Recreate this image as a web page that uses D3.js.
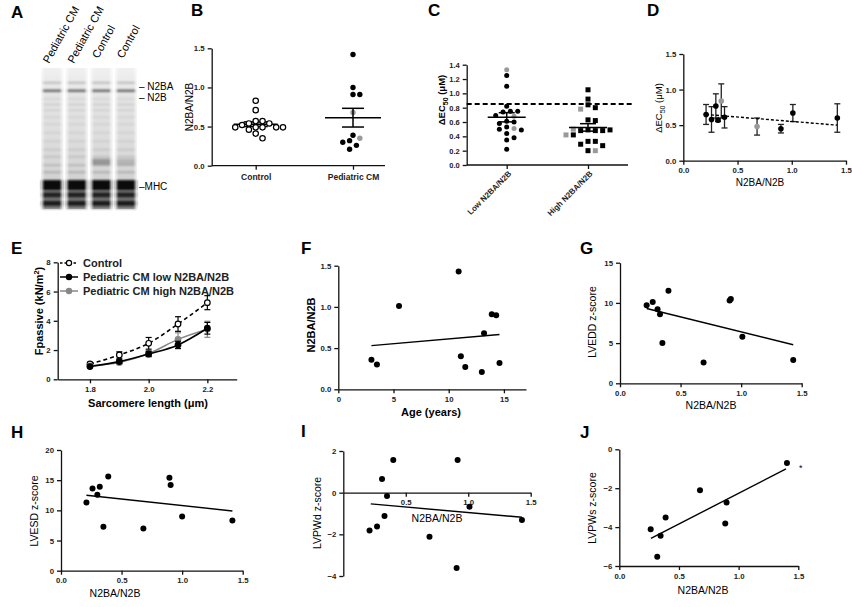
<!DOCTYPE html>
<html>
<head>
<meta charset="utf-8">
<script src="https://cdn.jsdelivr.net/npm/d3@7"></script>
<style>
  body { margin: 0; background: #fff; }
  svg { display: block; }
  text { font-family: "Liberation Sans", Arial, Helvetica, sans-serif; }
</style>
</head>
<body>
<div id="container"></div>
<script>
// ---------- data ----------
// A: gel
const gelLanes = ['Pediatric CM', 'Pediatric CM', 'Control', 'Control'];
const gelMarkers = ['N2BA', 'N2B', 'MHC'];
const gelMarkerPos = [0.13, 0.21, 0.84];             // label migration (0 = top, 1 = bottom)
const gelBandPos = [0.105, 0.16, 0.22, 0.26, 0.30, 0.35, 0.40, 0.46, 0.52, 0.58, 0.63, 0.69, 0.74];
const gelBandShade = [0.22, 0.55, 0.08, 0.1, 0.08, 0.07, 0.07, 0.07, 0.08, 0.1, 0.12, 0.16, 0.2];
const gelControlBand = 0.665;
const gelMhcPos = [0.83, 0.9, 0.96];
const gelMhcShade = [0.95, 0.8, 0.85];

// B: N2BA/N2B ratio
const ratioGroups = ['Control', 'Pediatric CM'];
const ctrlRatio = [0.83, 0.71, 0.57, 0.57, 0.54, 0.54, 0.52, 0.49, 0.49, 0.49, 0.49, 0.49, 0.46, 0.41, 0.35];
const pedRatio = [1.42, 1.00, 0.91, 0.91, 0.68, 0.39, 0.35, 0.32, 0.30, 0.26, 0.21];
const pedGrey = [0, 0, 0, 0, 1, 0, 1, 0, 0, 0, 0];

// C: delta EC50
const ecGroups = ['Low N2BA/N2B', 'High N2BA/N2B'];
const lowEc = [1.33, 1.25, 1.10, 0.82, 0.75, 0.74, 0.75, 0.68, 0.69, 0.61, 0.60, 0.58, 0.53, 0.51, 0.50, 0.49, 0.44, 0.38, 0.35, 0.22];
const lowGrey = [1, 0, 0, 0, 0, 0, 0, 1, 0, 0, 0, 0, 0, 1, 0, 0, 0, 0, 0, 0];
const highEc = [1.05, 0.92, 0.84, 0.80, 0.78, 0.63, 0.62, 0.49, 0.48, 0.48, 0.48, 0.50, 0.49, 0.42, 0.42, 0.33, 0.33, 0.29, 0.27, 0.20, 0.20];
const highGrey = [0, 0, 0, 0, 1, 0, 0, 0, 0, 0, 0, 1, 0, 0, 1, 0, 0, 0, 0, 0, 1];
const ecControlLevel = 0.85;

// D: delta EC50 vs ratio
const dRatio = [0.21, 0.26, 0.30, 0.32, 0.35, 0.38, 0.68, 0.90, 1.01, 1.42];
const dEc = [0.65, 0.58, 0.77, 0.57, 0.84, 0.61, 0.48, 0.45, 0.67, 0.60];
const dErr = [0.14, 0.18, 0.17, 0.02, 0.24, 0.15, 0.12, 0.06, 0.12, 0.20];
const dGrey = [0, 0, 0, 0, 1, 0, 1, 0, 0, 0];
const dFit = [[0.21, 0.65], [1.42, 0.50]];

// E: passive force
const eSL = [1.8, 1.9, 2.0, 2.1, 2.2];
const eSeries = ['Control', 'Pediatric CM low N2BA/N2B', 'Pediatric CM high N2BA/N2B'];
const eCtrl = [1.05, 1.66, 2.46, 3.78, 5.24];
const eCtrlErr = [0.1, 0.22, 0.4, 0.5, 0.48];
const eLow = [0.87, 1.21, 1.73, 2.35, 3.49];
const eLowErr = [0.08, 0.12, 0.18, 0.25, 0.4];
const eHigh = [0.92, 1.15, 1.76, 2.73, 3.42];
const eHighErr = [0.08, 0.15, 0.2, 0.45, 0.55];

// F: ratio vs age
const fAge = [3.0, 3.5, 5.5, 10.9, 11.1, 11.5, 13.0, 13.2, 13.9, 14.3, 14.6];
const fRatio = [0.36, 0.30, 1.01, 1.43, 0.40, 0.27, 0.21, 0.68, 0.91, 0.90, 0.32];
const fFit = [[3.0, 0.53], [14.6, 0.665]];

// G-J: echo z-scores vs ratio
const gRatio = [0.22, 0.27, 0.31, 0.33, 0.35, 0.40, 0.69, 0.905, 0.915, 1.01, 1.43];
const gLVEDD = [9.7, 10.1, 9.2, 8.6, 5.0, 11.5, 2.6, 10.3, 10.5, 5.8, 2.9];
const gFit = [[0.22, 9.3], [1.43, 4.8]];

const hRatio = [0.21, 0.26, 0.30, 0.32, 0.35, 0.39, 0.68, 0.895, 0.905, 1.0, 1.415];
const hLVESD = [11.3, 13.6, 12.6, 13.9, 7.3, 15.6, 7.0, 15.4, 14.2, 9.0, 8.3];
const hFit = [[0.21, 12.5], [1.415, 9.9]];

const iRatio = [0.21, 0.27, 0.31, 0.33, 0.35, 0.40, 0.69, 0.915, 0.907, 1.01, 1.43];
const iLVPWd = [-1.82, -1.62, 0.66, -1.12, -0.16, 1.57, -2.11, 1.57, -3.62, -0.67, -1.31];
const iFit = [[0.22, -0.54], [1.43, -1.18]];

const jRatio = [0.263, 0.346, 0.318, 0.388, 0.676, 0.899, 0.888, 1.405];
const jLVPWs = [-4.11, -4.44, -5.52, -3.51, -2.11, -2.73, -3.82, -0.70];
const jFit = [[0.265, -4.58], [1.397, -1.01]];
const jStar = [1.52, -0.89];

// ---------- drawing ----------
const W = 852, H = 607;
const GREY = '#9a9a9a';
const svg = d3.select('#container').append('svg').attr('width', W).attr('height', H);

function panelLetter(t, x, y) {
  svg.append('text').attr('x', x).attr('y', y).text(t)
    .attr('font-size', 17).attr('font-weight', 'bold');
}

function styleAxis(g) {
  g.selectAll('path, line').attr('stroke', '#111').attr('stroke-width', 1.3);
  g.selectAll('text').attr('font-size', 7.8).attr('font-weight', 'bold').attr('fill', '#222');
}

function yTitle(label, x, y, size, weight) {
  return svg.append('text').attr('transform', `translate(${x},${y}) rotate(-90)`)
    .attr('text-anchor', 'middle').attr('font-size', size || 10.5)
    .attr('font-weight', weight || 'normal').text(label);
}
function xTitle(label, x, y, size, weight) {
  return svg.append('text').attr('x', x).attr('y', y)
    .attr('text-anchor', 'middle').attr('font-size', size || 10.5)
    .attr('font-weight', weight || 'normal').text(label);
}

// numeric axes for a panel
function axes(x, y, xTicks, yTicks, xFmt, yFmt, xAtY) {
  const gx = svg.append('g')
    .attr('transform', `translate(0,${xAtY === undefined ? y.range()[0] : y(xAtY)})`)
    .call(d3.axisBottom(x).tickValues(xTicks).tickFormat(xFmt).tickSize(4).tickSizeOuter(0));
  const gy = svg.append('g').attr('transform', `translate(${x.range()[0]},0)`)
    .call(d3.axisLeft(y).tickValues(yTicks).tickFormat(yFmt).tickSize(4).tickSizeOuter(0));
  styleAxis(gx); styleAxis(gy);
  return [gx, gy];
}

function dots(x, y, xs, ys, greys, r) {
  svg.append('g').selectAll('circle').data(xs).join('circle')
    .attr('cx', d => x(d)).attr('cy', (d, i) => y(ys[i])).attr('r', r || 3)
    .attr('fill', (d, i) => greys && greys[i] ? GREY : '#000');
}

function fitLine(x, y, pts, dash) {
  svg.append('path').datum(pts)
    .attr('d', d3.line().x(d => x(d[0])).y(d => y(d[1])))
    .attr('fill', 'none').attr('stroke', '#000').attr('stroke-width', 1.4)
    .attr('stroke-dasharray', dash || null);
}

// simple beeswarm: push points sideways until they stop overlapping
function swarm(values, y, r) {
  const placed = [];
  return values.map(v => {
    const cy = y(v);
    let k = 0, off = 0;
    while (true) {
      off = (k === 0) ? 0 : (k % 2 ? 1 : -1) * Math.ceil(k / 2) * (r * 2 + 0.8) * 0.55;
      const ok = placed.every(p => (p.dx - off) ** 2 + (p.cy - cy) ** 2 >= (2 * r + 0.6) ** 2);
      if (ok) break;
      k++;
    }
    const p = { dx: off, cy };
    placed.push(p);
    return p;
  });
}

function meanSem(vals) {
  const m = d3.mean(vals);
  const sem = d3.deviation(vals) / Math.sqrt(vals.length);
  return [m, sem];
}

function meanBars(cx, y, vals, wMean, wSem, vertical) {
  const [m, s] = meanSem(vals);
  const g = svg.append('g').attr('stroke', '#000').attr('stroke-width', 1.5);
  g.append('line').attr('x1', cx - wMean).attr('x2', cx + wMean).attr('y1', y(m)).attr('y2', y(m));
  [m - s, m + s].forEach(v => g.append('line').attr('x1', cx - wSem).attr('x2', cx + wSem)
    .attr('y1', y(v)).attr('y2', y(v)));
  if (vertical) g.append('line').attr('x1', cx).attr('x2', cx).attr('y1', y(m - s)).attr('y2', y(m + s));
}

// ===== A: gel =====
(function () {
  const defs = svg.append('defs');
  const grad = defs.append('linearGradient').attr('id', 'laneBg')
    .attr('x1', 0).attr('x2', 0).attr('y1', 0).attr('y2', 1);
  [[0, '#f0f0f0'], [0.2, '#e4e4e4'], [0.5, '#dddddd'], [0.75, '#d4d4d4'], [1, '#c8c8c8']]
    .forEach(s => grad.append('stop').attr('offset', s[0]).attr('stop-color', s[1]));
  const hgrad = defs.append('linearGradient').attr('id', 'laneEdge');
  [[0, 'rgba(255,255,255,0.7)'], [0.18, 'rgba(255,255,255,0)'], [0.82, 'rgba(255,255,255,0)'], [1, 'rgba(255,255,255,0.7)']]
    .forEach(s => hgrad.append('stop').attr('offset', s[0]).attr('stop-color', s[1]));
  defs.append('filter').attr('id', 'blur').append('feGaussianBlur').attr('stdDeviation', 0.9);

  const lane = d3.scaleBand().domain(d3.range(gelLanes.length)).range([41, 137]).paddingInner(0.1);
  const mig = d3.scaleLinear().domain([0, 1]).range([68, 209]);
  const g = svg.append('g');
  gelLanes.forEach((name, i) => {
    const x0 = lane(i), w = lane.bandwidth();
    const lg = g.append('g');
    lg.append('rect').attr('x', x0).attr('y', mig(0)).attr('width', w).attr('height', mig(1) - mig(0))
      .attr('fill', 'url(#laneBg)');
    const bg = lg.append('g').attr('filter', 'url(#blur)');
    gelBandPos.forEach((p, j) => bg.append('rect').attr('x', x0 + 1).attr('width', w - 2)
      .attr('y', mig(p) - 1).attr('height', j === 1 ? 2.4 : 1.8)
      .attr('fill', '#000').attr('opacity', gelBandShade[j]));
    if (name === 'Control') {
      bg.append('rect').attr('x', x0 + 1).attr('width', w - 2).attr('y', mig(gelControlBand) - 3)
        .attr('height', 6).attr('fill', '#000').attr('opacity', i === 2 ? 0.3 : 0.16);
    }
    gelMhcPos.forEach((p, j) => bg.append('rect').attr('x', x0 + 0.5).attr('width', w - 1)
      .attr('y', mig(p) - (j === 0 ? 5 : 2.5)).attr('height', j === 0 ? 10 : 5)
      .attr('fill', '#000').attr('opacity', gelMhcShade[j]));
    bg.append('rect').attr('x', x0 + 1).attr('width', w - 2).attr('y', mig(0.86))
      .attr('height', mig(1) - mig(0.86)).attr('fill', '#222').attr('opacity', 0.5);
    lg.append('rect').attr('x', x0).attr('y', mig(0)).attr('width', w).attr('height', mig(1) - mig(0))
      .attr('fill', 'url(#laneEdge)');
    g.append('text').attr('transform', `translate(${x0 + w / 2 - 3},${name === 'Control' ? 59 : 64}) rotate(-61)`)
      .attr('font-size', 11).text(name);
  });
  gelMarkers.forEach((m, i) => {
    g.append('text').attr('x', 139).attr('y', mig(gelMarkerPos[i]) + 3.5)
      .attr('font-size', 10).text((i === 2 ? '\u2013' : '\u2013 ') + m);
  });
})();
panelLetter('A', 11, 18);

// ===== B =====
(function () {
  const y = d3.scaleLinear().domain([0, 1.5]).range([165.7, 48.3]);
  const x = d3.scalePoint().domain(ratioGroups).range([255.7, 353]);
  const gy = svg.append('g').attr('transform', 'translate(211.7,0)')
    .call(d3.axisLeft(y).tickValues([0, 0.5, 1, 1.5]).tickFormat(d3.format('.1f')).tickSize(4).tickSizeOuter(0));
  const gx = svg.append('g').attr('transform', `translate(0,${y(0)})`)
    .call(d3.axisBottom(x).tickSize(4).tickSizeOuter(0));
  gx.select('.domain').attr('d', `M211.7,0H385`);
  styleAxis(gy); styleAxis(gx);
  gx.selectAll('text').attr('font-size', 8.5).attr('dy', '0.9em');
  yTitle('N2BA/N2B', 193, 107, 10);

  const r = 2.7;
  const cs = swarm(ctrlRatio, y, r);
  meanBars(x('Control'), y, ctrlRatio, 22, 12, false);
  svg.append('g').selectAll('circle').data(cs).join('circle')
    .attr('cx', d => x('Control') + d.dx).attr('cy', d => d.cy).attr('r', r)
    .attr('fill', '#fff').attr('stroke', '#000').attr('stroke-width', 1.2);
  const ps = swarm(pedRatio, y, r);
  svg.append('g').selectAll('circle').data(ps).join('circle')
    .attr('cx', d => x('Pediatric CM') + d.dx).attr('cy', d => d.cy).attr('r', r)
    .attr('fill', (d, i) => pedGrey[i] ? GREY : '#000');
  meanBars(x('Pediatric CM'), y, pedRatio, 28, 11, true);
})();
panelLetter('B', 191, 16);

// ===== C =====
(function () {
  const y = d3.scaleLinear().domain([0, 1.4]).range([165, 64.7]);
  const x = d3.scalePoint().domain(ecGroups).range([506.7, 588]);
  const gy = svg.append('g').attr('transform', 'translate(466.7,0)')
    .call(d3.axisLeft(y).tickValues(d3.range(0, 1.41, 0.2)).tickFormat(d3.format('.1f')).tickSize(4).tickSizeOuter(0));
  const gx = svg.append('g').attr('transform', `translate(0,${y(0)})`)
    .call(d3.axisBottom(x).tickSize(4).tickSizeOuter(0));
  gx.select('.domain').attr('d', 'M466.7,0H628');
  styleAxis(gy); styleAxis(gx);
  gy.selectAll('text').attr('font-size', 7.5);
  gx.selectAll('text').attr('font-size', 8).attr('text-anchor', 'end')
    .attr('transform', 'rotate(-45)').attr('dx', '-0.4em').attr('dy', '0.35em');
  const t = svg.append('text').attr('transform', 'translate(445,100) rotate(-90)')
    .attr('text-anchor', 'middle').attr('font-size', 9.5).attr('font-weight', 'bold');
  t.append('tspan').text('\u0394EC');
  t.append('tspan').attr('font-size', 7).attr('dy', 2.5).text('50');
  t.append('tspan').attr('dy', -2.5).text(' (\u03bcM)');

  svg.append('line').attr('x1', 466.7).attr('x2', 632).attr('y1', y(ecControlLevel)).attr('y2', y(ecControlLevel))
    .attr('stroke', '#000').attr('stroke-width', 2).attr('stroke-dasharray', '5,3');

  const r = 2.5;
  const ls = swarm(lowEc, y, r);
  svg.append('g').selectAll('circle').data(ls).join('circle')
    .attr('cx', d => x(ecGroups[0]) + d.dx * 1.15).attr('cy', d => d.cy).attr('r', r)
    .attr('fill', (d, i) => lowGrey[i] ? GREY : '#000');
  meanBars(x(ecGroups[0]), y, lowEc, 19, 8, true);
  const hs = swarm(highEc, y, r);
  svg.append('g').selectAll('rect').data(hs).join('rect')
    .attr('x', d => x(ecGroups[1]) + d.dx * 1.15 - r).attr('y', d => d.cy - r)
    .attr('width', 2 * r).attr('height', 2 * r)
    .attr('fill', (d, i) => highGrey[i] ? GREY : '#000');
  meanBars(x(ecGroups[1]), y, highEc, 19, 8, true);
})();
panelLetter('C', 428, 16);

// ===== D =====
(function () {
  const x = d3.scaleLinear().domain([0, 1.5]).range([683.3, 846]);
  const y = d3.scaleLinear().domain([0, 1.5]).range([160.7, 54]);
  axes(x, y, [0, 0.5, 1, 1.5], [0, 0.5, 1, 1.5], d3.format('.1f'), d3.format('.1f'));
  const eb = svg.append('g').attr('stroke', '#222').attr('stroke-width', 1.3);
  dRatio.forEach((v, i) => {
    const cx = x(v), y1 = y(dEc[i] - dErr[i]), y2 = y(dEc[i] + dErr[i]);
    eb.append('line').attr('x1', cx).attr('x2', cx).attr('y1', y1).attr('y2', y2);
    [y1, y2].forEach(yy => eb.append('line').attr('x1', cx - 3).attr('x2', cx + 3).attr('y1', yy).attr('y2', yy));
  });
  fitLine(x, y, dFit, '3,2');
  dots(x, y, dRatio, dEc, dGrey, 2.8);
  const t = svg.append('text').attr('transform', 'translate(662,108) rotate(-90)')
    .attr('text-anchor', 'middle').attr('font-size', 9.5);
  t.append('tspan').text('\u0394EC');
  t.append('tspan').attr('font-size', 7).attr('dy', 2.5).text('50');
  t.append('tspan').attr('dy', -2.5).text(' (\u03bcM)');
  xTitle('N2BA/N2B', 760, 186, 10);
})();
panelLetter('D', 647, 16);

// ===== E =====
(function () {
  const x = d3.scaleLinear().domain([1.69, 2.3]).range([57.7, 236.7]);
  const y = d3.scaleLinear().domain([0, 8]).range([379.3, 262.3]);
  axes(x, y, [1.8, 2.0, 2.2], [0, 2, 4, 6, 8], d3.format('.1f'), d3.format('d'));
  const series = [
    { vals: eCtrl, err: eCtrlErr, col: '#000', dash: '4,3', open: true },
    { vals: eHigh, err: eHighErr, col: '#888', dash: null, open: false },
    { vals: eLow, err: eLowErr, col: '#000', dash: null, open: false }
  ];
  const line = d3.line().x((d, i) => x(eSL[i])).y(d => y(d)).curve(d3.curveMonotoneX);
  series.forEach(s => {
    const g = svg.append('g');
    g.append('path').attr('d', line(s.vals)).attr('fill', 'none').attr('stroke', s.col)
      .attr('stroke-width', 1.6).attr('stroke-dasharray', s.dash);
    s.vals.forEach((v, i) => {
      const cx = x(eSL[i]), y1 = y(v - s.err[i]), y2 = y(v + s.err[i]);
      g.append('line').attr('x1', cx).attr('x2', cx).attr('y1', y1).attr('y2', y2).attr('stroke', s.col).attr('stroke-width', 1.2);
      [y1, y2].forEach(yy => g.append('line').attr('x1', cx - 3).attr('x2', cx + 3).attr('y1', yy).attr('y2', yy)
        .attr('stroke', s.col).attr('stroke-width', 1.2));
      g.append('circle').attr('cx', cx).attr('cy', y(v)).attr('r', 2.8)
        .attr('fill', s.open ? '#fff' : s.col).attr('stroke', s.col).attr('stroke-width', 1.2);
    });
  });
  // legend
  const legStyle = [series[0], series[2], series[1]];
  eSeries.forEach((name, i) => {
    const ly = 263 + i * 14, s = legStyle[i];
    svg.append('line').attr('x1', 60).attr('x2', 78).attr('y1', ly).attr('y2', ly)
      .attr('stroke', s.col).attr('stroke-width', 1.5).attr('stroke-dasharray', s.dash ? '2.5,2' : null);
    svg.append('circle').attr('cx', 69).attr('cy', ly).attr('r', 2.6)
      .attr('fill', s.open ? '#fff' : s.col).attr('stroke', s.col).attr('stroke-width', 1.2);
    svg.append('text').attr('x', 83).attr('y', ly + 4).attr('font-size', 11).attr('font-weight', 'bold')
      .attr('fill', '#222').text(name);
  });
  const t = svg.append('text').attr('transform', 'translate(43,311) rotate(-90)')
    .attr('text-anchor', 'middle').attr('font-size', 11).attr('font-weight', 'bold');
  t.append('tspan').text('Fpassive (kN/m');
  t.append('tspan').attr('font-size', 7.5).attr('dy', -4).text('2');
  t.append('tspan').attr('dy', 4).text(')');
  xTitle('Sarcomere length  (\u03bcm)', 148, 407, 11, 'bold');
})();
panelLetter('E', 11, 254);

// ===== F =====
(function () {
  const x = d3.scaleLinear().domain([0, 17]).range([338.3, 526]);
  const y = d3.scaleLinear().domain([0, 1.5]).range([389.3, 265.7]);
  axes(x, y, [0, 5, 10, 15], [0, 0.5, 1, 1.5], d3.format('d'), d3.format('.1f'));
  fitLine(x, y, fFit);
  dots(x, y, fAge, fRatio, null, 3);
  yTitle('N2BA/N2B', 315, 325, 11, 'bold');
  xTitle('Age (years)', 431, 416, 11, 'bold');
})();
panelLetter('F', 301, 254);

// ===== G =====
(function () {
  const x = d3.scaleLinear().domain([0, 1.5]).range([620, 801.7]);
  const y = d3.scaleLinear().domain([0, 15]).range([383.3, 262.7]);
  axes(x, y, [0, 0.5, 1, 1.5], [0, 5, 10, 15], d3.format('.1f'), d3.format('d'));
  fitLine(x, y, gFit);
  dots(x, y, gRatio, gLVEDD, null, 3);
  yTitle('LVEDD z-score', 596, 322, 10.5);
  xTitle('N2BA/N2B', 711, 409, 10.5);
})();
panelLetter('G', 580, 254);

// ===== H =====
(function () {
  const x = d3.scaleLinear().domain([0, 1.5]).range([61, 242.7]);
  const y = d3.scaleLinear().domain([0, 20]).range([570.7, 450]);
  axes(x, y, [0, 0.5, 1, 1.5], [0, 5, 10, 15, 20], d3.format('.1f'), d3.format('d'));
  fitLine(x, y, hFit);
  dots(x, y, hRatio, hLVESD, null, 3);
  yTitle('LVESD z-score', 38, 511, 10.5);
  xTitle('N2BA/N2B', 115, 597, 10.5);
})();
panelLetter('H', 11, 438);

// ===== I =====
(function () {
  const x = d3.scaleLinear().domain([0, 1.5]).range([343.3, 530.7]);
  const y = d3.scaleLinear().domain([-4, 2]).range([576, 451]);
  axes(x, y, [0.5, 1, 1.5], [-4, -2, 0, 2], d3.format('.1f'), d3.format('d'), 0);
  fitLine(x, y, iFit);
  dots(x, y, iRatio, iLVPWd, null, 3);
  yTitle('LVPWd z-score', 321, 513, 10.5);
  xTitle('N2BA/N2B', 437, 522, 10.5);
})();
panelLetter('I', 301, 437);

// ===== J =====
(function () {
  const x = d3.scaleLinear().domain([0, 1.5]).range([619.3, 798.3]);
  const y = d3.scaleLinear().domain([-6, 0]).range([566, 449.3]);
  axes(x, y, [0, 0.5, 1, 1.5], [-6, -4, -2, 0], d3.format('.1f'), d3.format('d'));
  fitLine(x, y, jFit);
  dots(x, y, jRatio, jLVPWs, null, 3);
  svg.append('text').attr('x', x(jStar[0])).attr('y', y(jStar[1]) + 4).attr('text-anchor', 'middle')
    .attr('font-size', 9).text('*');
  yTitle('LVPWs z-score', 596, 508, 10.5);
  xTitle('N2BA/N2B', 703, 594, 10.5);
})();
panelLetter('J', 580, 438);
</script>
</body>
</html>
